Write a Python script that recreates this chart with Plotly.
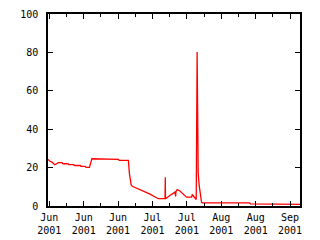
import plotly.graph_objects as go

# Data
dates = [
    "2001-05-31 11:00", "2001-06-01 03:00", "2001-06-02 02:00", "2001-06-03 04:00",
    "2001-06-04 18:00", "2001-06-06 04:00", "2001-06-06 13:00", "2001-06-08 14:00",
    "2001-06-08 20:00", "2001-06-10 21:00", "2001-06-11 06:00", "2001-06-13 14:00",
    "2001-06-13 21:00", "2001-06-15 15:00", "2001-06-16 00:00", "2001-06-17 08:00",
    "2001-06-18 08:00", "2001-06-21 17:00", "2001-06-22 02:00", "2001-06-29 03:00",
    "2001-06-29 10:00", "2001-07-03 04:00", "2001-07-03 14:00", "2001-07-04 07:00",
    "2001-07-04 19:00", "2001-07-07 22:00", "2001-07-12 00:00", "2001-07-15 08:00",
    "2001-07-18 02:00", "2001-07-18 05:00", "2001-07-18 07:00", "2001-07-20 02:00",
    "2001-07-22 03:00", "2001-07-22 10:00", "2001-07-22 13:00", "2001-07-23 01:00",
    "2001-07-24 04:00", "2001-07-26 21:00", "2001-07-28 22:00", "2001-07-29 04:00",
    "2001-07-30 06:00", "2001-07-30 19:00", "2001-07-31 04:00", "2001-07-31 14:00",
    "2001-08-01 00:00", "2001-08-01 13:00", "2001-08-01 23:00", "2001-08-02 05:00",
    "2001-08-21 14:00", "2001-08-21 20:00", "2001-08-26 07:00", "2001-08-26 13:00",
    "2001-09-11 01:00",
]
values = [
    24.3, 23.4, 22.9, 21.5,
    22.6, 22.6, 22.0, 22.0,
    21.5, 21.5, 21.1, 21.1,
    20.6, 20.6, 20.1, 20.1,
    24.6, 24.6, 24.3, 24.3,
    23.8, 23.8, 17.1, 11.1,
    10.3, 8.6, 6.2, 3.8,
    3.8, 15.0, 3.8, 5.5,
    7.2, 5.0, 7.5, 8.5,
    7.8, 4.6, 4.6, 6.0,
    4.6, 3.4, 80.2, 17.4,
    10.7, 5.0, 2.0, 1.67,
    1.67, 1.15, 1.15, 0.8,
    0.8,
]

x_tickvals = ["2001-06-01", "2001-06-15", "2001-06-29", "2001-07-13",
              "2001-07-27", "2001-08-10", "2001-08-24", "2001-09-07"]
x_ticktext = ["Jun<br>2001", "Jun<br>2001", "Jun<br>2001", "Jul<br>2001",
              "Jul<br>2001", "Aug<br>2001", "Aug<br>2001", "Sep<br>2001"]
y_tickvals = [0, 20, 40, 60, 80, 100]

fig = go.Figure()
fig.add_trace(go.Scatter(x=dates, y=values, mode="lines",
                         line=dict(color="#ff0000", width=1.3),
                         showlegend=False))

font = dict(family="DejaVu Sans Mono", size=10, color="black")
fig.update_layout(
    width=320, height=240,
    margin=dict(l=48, r=20, t=14, b=34, autoexpand=False),
    paper_bgcolor="white", plot_bgcolor="white",
    font=font,
    xaxis=dict(
        type="date", automargin=False,
        range=["2001-05-31 11:00", "2001-09-11 01:00"],
        tickmode="array", tickvals=x_tickvals, ticktext=x_ticktext,
        ticks="inside", ticklen=5, tickwidth=1.3, tickcolor="black",
        minor=dict(ticks="inside", ticklen=3, tickwidth=1.3, tickcolor="black",
                   dtick=7 * 86400000, tick0="2001-06-08", showgrid=False),
        showline=True, linecolor="black", linewidth=1.5, mirror="allticks",
        showgrid=False, zeroline=False, tickangle=0,
        ticklabelstandoff=1,
    ),
    yaxis=dict(
        range=[0, 100], automargin=False,
        tickmode="array", tickvals=y_tickvals,
        ticks="inside", ticklen=5, tickwidth=1.3, tickcolor="black",
        showline=True, linecolor="black", linewidth=1.5, mirror="allticks",
        showgrid=False, zeroline=False,
        ticklabelstandoff=6,
    ),
)

fig.write_html("out.html")
